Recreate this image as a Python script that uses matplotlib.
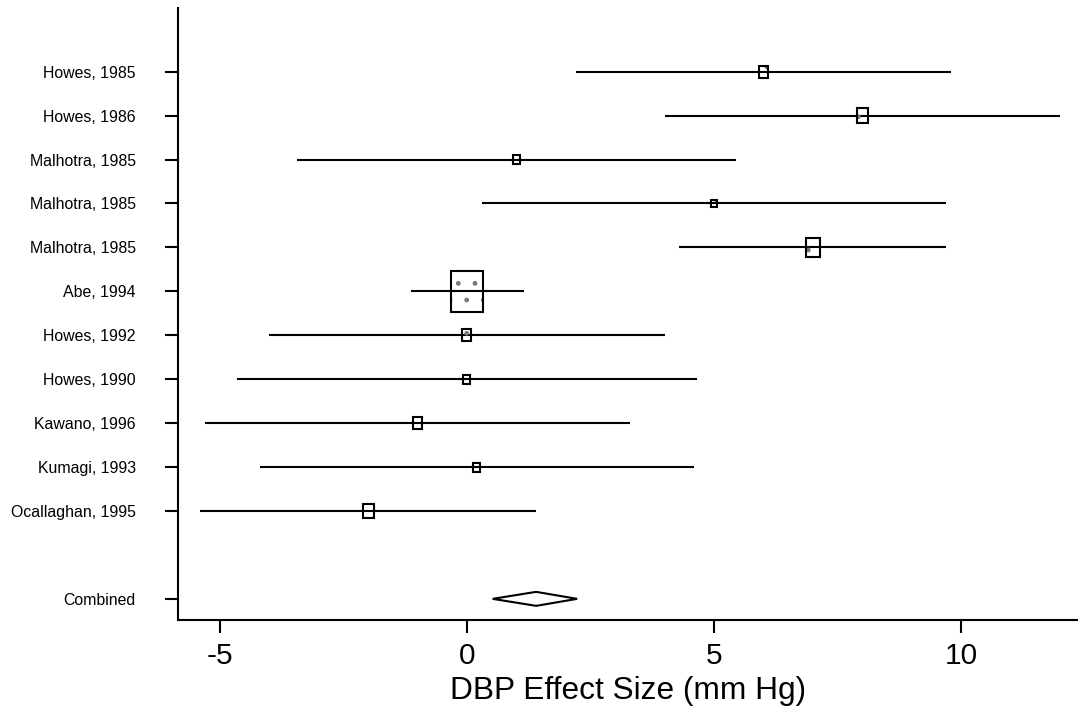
import matplotlib
matplotlib.use("Agg")
import matplotlib.pyplot as plt
from matplotlib.patches import Rectangle, Polygon

plt.rcParams['font.family'] = ['Liberation Sans', 'DejaVu Sans']

studies = ["Howes, 1985", "Howes, 1986", "Malhotra, 1985", "Malhotra, 1985",
           "Malhotra, 1985", "Abe, 1994", "Howes, 1992", "Howes, 1990",
           "Kawano, 1996", "Kumagi, 1993", "Ocallaghan, 1995"]
effect = [6.0, 8.0, 1.0, 5.0, 7.0, 0.0, 0.0, 0.0, -1.0, 0.2, -2.0]
lower = [2.2, 4.0, -3.45, 0.3, 4.3, -1.13, -4.0, -4.65, -5.3, -4.2, -5.4]
upper = [9.8, 12.0, 5.45, 9.7, 9.7, 1.15, 4.0, 4.65, 3.3, 4.6, 1.4]
weight = [9, 11, 7, 6, 14, 32, 9, 7, 9, 7, 11]

combined_label = "Combined"
combined_effect = 1.4
combined_lower = 0.52
combined_upper = 2.23

xticks = [-5, 0, 5, 10]
xlabel = "DBP Effect Size (mm Hg)"

W, H = 1078, 713
fig = plt.figure(figsize=(W / 100, H / 100), dpi=100)
ax_left, ax_right, ax_top, ax_bot = 178, 1078, 8, 619.5
ax = fig.add_axes([ax_left / W, 1 - ax_bot / H, (ax_right - ax_left) / W, (ax_bot - ax_top) / H])

xmin, xmax = -5.85, 12.37
ymin, ymax = 13.47, -0.45
ax.set_xlim(xmin, xmax)
ax.set_ylim(ymin, ymax)

px_per_x = (ax_right - ax_left) / (xmax - xmin)
px_per_y = (ax_bot - ax_top) / (ymin - ymax)

rows = list(range(1, len(studies) + 1))
comb_row = len(studies) + 2

lw = 1.5
for r, e, lo, hi, w in zip(rows, effect, lower, upper, weight):
    ax.plot([lo, hi], [r, r], color='black', lw=lw, solid_capstyle='butt', zorder=2)
    bw = w / px_per_x
    bh = w * 1.3 / px_per_y
    ax.add_patch(Rectangle((e - bw / 2, r - bh / 2), bw, bh, facecolor='none',
                           edgecolor='#777777', hatch='.', lw=0, zorder=4))
    ax.add_patch(Rectangle((e - bw / 2, r - bh / 2), bw, bh, facecolor='none',
                           edgecolor='black', lw=lw, zorder=5))

dh = 7 / px_per_y
ax.add_patch(Polygon([(combined_lower, comb_row), (combined_effect, comb_row - dh),
                      (combined_upper, comb_row), (combined_effect, comb_row + dh)],
                     closed=True, facecolor='white', edgecolor='black', lw=lw, zorder=3))

ax.set_yticks(rows + [comb_row])
ax.set_yticklabels(studies + [combined_label], fontsize=11.4)
ax.set_xticks(xticks)
ax.set_xticklabels([str(t) for t in xticks], fontsize=21.5)
ax.set_xlabel(xlabel, fontsize=22.8, labelpad=4)

for s in ['top', 'right']:
    ax.spines[s].set_visible(False)
for s in ['left', 'bottom']:
    ax.spines[s].set_linewidth(1.5)
ax.tick_params(axis='y', length=9.5, width=1.5, pad=21)
ax.tick_params(axis='x', length=9.5, width=1.5, pad=7)

fig.savefig("out.png", dpi=100)
